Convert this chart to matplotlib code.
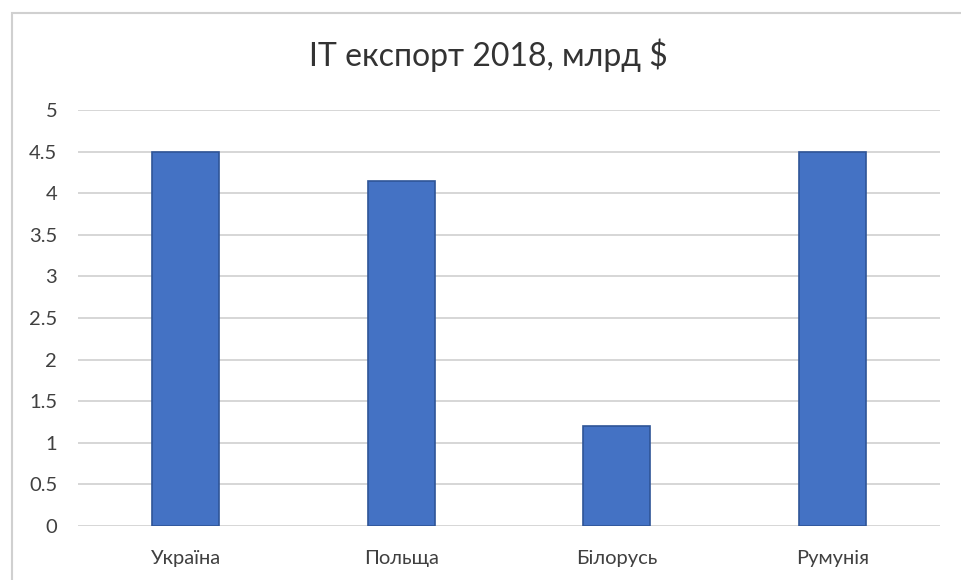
import matplotlib.pyplot as plt
from matplotlib.patches import Rectangle

# IT export 2018, bn $
countries = ['Україна', 'Польща', 'Білорусь', 'Румунія']
export_bn = [4.5, 4.15, 1.2, 4.5]
yticks = [0, 0.5, 1, 1.5, 2, 2.5, 3, 3.5, 4, 4.5, 5]
ytick_labels = ['0', '0.5', '1', '1.5', '2', '2.5', '3', '3.5', '4', '4.5', '5']

plt.rcParams['font.family'] = ['Lato', 'DejaVu Sans']

fig = plt.figure(figsize=(9.61, 5.8), dpi=100)
# outer chart frame
fig.patches.append(Rectangle((12/961, -0.01), 1.0, 1 - 13/580 + 0.01,
                             transform=fig.transFigure, fill=False,
                             edgecolor='#d0d0d0', linewidth=1.5))

ax = fig.add_axes([78/961, 1 - 526/580, 862/961, 416/580])
x = range(len(countries))
ax.bar(x, export_bn, width=0.31, color='#4472C4', edgecolor='#2F5597',
       linewidth=1.2, zorder=3)

ax.set_xlim(-0.5, len(countries) - 0.5)
ax.set_ylim(0, 5)
ax.set_yticks(yticks)
ax.set_yticklabels(ytick_labels)
ax.set_xticks(list(x))
ax.set_xticklabels(countries)
ax.grid(axis='y', color='#d0d0d0', linewidth=1.2, zorder=0)
for s in ax.spines.values():
    s.set_visible(False)
ax.tick_params(length=0, labelsize=14.5, colors='#404040')
ax.tick_params(axis='y', pad=15)
ax.tick_params(axis='x', pad=17)

fig.text(488/961, 1 - 55/580, 'IT експорт 2018, млрд $', ha='center',
         va='center', fontsize=23, color='#333333')

fig.savefig('out.png', dpi=100)
